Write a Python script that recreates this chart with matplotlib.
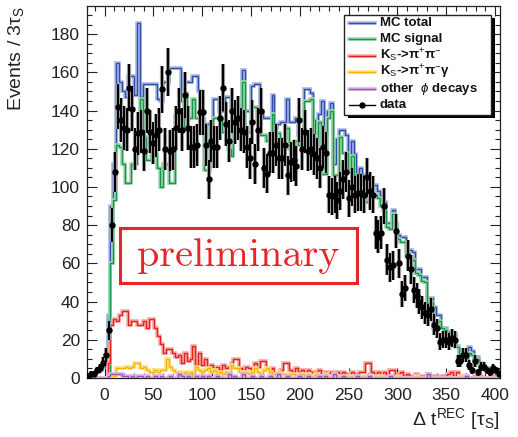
import numpy as np
import matplotlib.pyplot as plt
from matplotlib.patches import Rectangle
from matplotlib.lines import Line2D

plt.rcParams['font.family'] = ['Liberation Sans', 'DejaVu Sans']
plt.rcParams['mathtext.fontset'] = 'custom'
plt.rcParams['mathtext.rm'] = 'Liberation Sans'
plt.rcParams['mathtext.it'] = 'Liberation Sans:italic'
plt.rcParams['mathtext.bf'] = 'Liberation Sans:bold'

# ── Binning: 3 tau_S per bin, left edge -18 ──
BIN_LO, BIN_W, NBINS = -18, 3, 141
edges = BIN_LO + BIN_W * np.arange(NBINS + 1)
centers = edges[:-1] + BIN_W / 2

# ── Histogram contents (10 bins per row) ──
mc_total = [
    1, 1, 2, 3, 4, 6, 12, 33, 90, 112,
    165, 155, 150, 147, 158, 158, 148, 186, 147, 154,
    154, 154, 154, 154, 146, 145, 155, 155, 162, 162,
    162, 162, 145, 155, 155, 155, 158, 158, 150, 136,
    133, 133, 133, 146, 146, 140, 140, 147, 147, 140,
    140, 135, 143, 161, 140, 140, 153, 154, 154, 140,
    136, 136, 136, 148, 131, 133, 134, 134, 146, 134,
    134, 136, 127, 127, 151, 151, 149, 135, 128, 138,
    145, 128, 140, 144, 112, 125, 130, 130, 127, 114,
    124, 117, 103, 110, 106, 98, 103, 101, 101, 98,
    95, 92, 81, 81, 88, 81, 75, 74, 74, 67,
    67, 66, 57, 57, 53, 53, 42, 42, 37, 33,
    33, 26, 26, 24, 24, 23, 17, 14, 13, 12,
    16, 14, 11, 11, 8, 7, 5, 5, 4, 4,
    3,
]
mc_signal = [
    0, 0, 0, 0, 0, 0, 0, 3, 60, 93,
    122, 121, 112, 102, 102, 112, 112, 121, 146, 126,
    114, 114, 120, 118, 110, 100, 112, 112, 102, 102,
    137, 137, 130, 149, 136, 136, 146, 136, 136, 128,
    109, 109, 131, 136, 136, 135, 129, 129, 120, 116,
    134, 134, 134, 155, 129, 129, 142, 142, 134, 127,
    127, 124, 124, 138, 128, 128, 125, 125, 131, 120,
    120, 124, 122, 122, 145, 145, 146, 122, 122, 134,
    107, 107, 136, 140, 106, 106, 126, 118, 118, 108,
    116, 106, 100, 100, 100, 92, 97, 96, 96, 94,
    90, 88, 79, 78, 86, 80, 73, 71, 71, 64,
    63, 62, 55, 54, 51, 50, 39, 40, 26, 28,
    30, 26, 25, 22, 22, 21, 16, 10, 10, 10,
    13, 12, 10, 10, 7, 5, 4, 4, 3, 3,
    3,
]
ks_pipi = [
    0, 0, 0, 0, 0, 0, 0, 8, 28, 31,
    30, 33, 35, 35, 28, 30, 30, 28, 28, 30,
    26, 31, 31, 26, 22, 18, 13, 15, 15, 13,
    11, 12, 8, 13, 9, 10, 17, 7, 13, 7,
    10, 5, 7, 4, 6, 4, 7, 5, 6, 8,
    10, 10, 5, 4, 6, 5, 3, 8, 6, 9,
    9, 4, 4, 5, 3, 3, 4, 8, 8, 4,
    3, 5, 3, 4, 2, 4, 3, 2, 3, 4,
    2, 3, 2, 3, 1, 3, 2, 3, 2, 1,
    3, 2, 2, 3, 3, 8, 8, 3, 2, 3,
    1, 3, 2, 4, 4, 1, 2, 3, 1, 2,
    1, 1, 2, 1, 1, 1, 2, 0, 1, 1,
    0, 1, 1, 2, 3, 1, 3, 1, 0, 1,
    0, 0, 1, 0, 1, 0, 0, 0, 1, 0,
    0,
]
ks_pipig = [
    0, 0, 0, 0, 0, 0, 0, 0, 0, 1,
    5, 5, 5, 6, 5, 6, 8, 8, 5, 6,
    4, 3, 3, 4, 3, 4, 4, 10, 6, 4,
    3, 3, 2, 3, 2, 3, 2, 6, 4, 3,
    4, 5, 3, 4, 2, 3, 2, 3, 2, 7,
    5, 5, 3, 2, 3, 2, 3, 5, 3, 2,
    4, 5, 3, 2, 2, 3, 2, 2, 1, 2,
    2, 1, 2, 2, 1, 2, 1, 1, 2, 1,
    1, 2, 1, 1, 2, 1, 1, 1, 0, 1,
    1, 1, 0, 1, 1, 0, 1, 0, 1, 0,
    1, 0, 0, 1, 0, 0, 1, 0, 0, 0,
    0, 0, 1, 0, 0, 0, 0, 0, 0, 0,
    0, 0, 0, 0, 0, 0, 0, 1, 0, 0,
    0, 0, 0, 0, 0, 0, 0, 0, 0, 0,
    0,
]
other_phi = [
    0, 0, 0, 0, 0, 0, 0, 1, 2, 2,
    2, 2, 1, 1, 0, 1, 0, 1, 1, 0,
    1, 0, 0, 1, 0, 1, 0, 0, 1, 0,
    0, 2, 1, 0, 1, 0, 0, 1, 0, 1,
    0, 1, 0, 0, 1, 0, 0, 0, 2, 0,
    1, 0, 0, 2, 0, 0, 1, 0, 0, 1,
    0, 0, 1, 0, 0, 2, 0, 0, 1, 0,
    0, 0, 1, 0, 0, 1, 0, 0, 0, 1,
    0, 1, 0, 0, 2, 0, 0, 1, 0, 0,
    0, 0, 1, 0, 0, 0, 1, 0, 0, 0,
    0, 0, 0, 1, 0, 0, 0, 0, 0, 0,
    0, 0, 0, 0, 0, 0, 2, 0, 0, 0,
    0, 0, 0, 0, 0, 0, 0, 0, 0, 1,
    0, 0, 0, 0, 0, 0, 0, 0, 0, 0,
    0,
]
data = [
    1, 2, 2, 4, 5, 8, 12, 25, 80, 108,
    142, 135, 131, 130, 152, 141, 120, 128, 129, 119,
    140, 129, 123, 127, 130, 151, 120, 160, 119, 120,
    131, 140, 130, 148, 131, 121, 121, 122, 139, 139,
    122, 104, 124, 121, 121, 136, 152, 133, 124, 140,
    134, 136, 130, 129, 121, 115, 134, 112, 130, 140,
    110, 107, 118, 118, 122, 115, 115, 122, 106, 113,
    114, 111, 135, 120, 129, 119, 120, 117, 115, 110,
    121, 118, 96, 95, 96, 93, 98, 104, 108, 94,
    100, 96, 97, 97, 96, 105, 98, 96, 76, 74,
    76, 90, 62, 58, 59, 77, 60, 44, 47, 64,
    57, 46, 43, 40, 37, 34, 33, 36, 28, 26,
    19, 20, 20, 19, 21, 20, 9, 9, 12, 12,
    7, 4, 9, 3, 6, 6, 4, 3, 5, 4,
    2,
]

for arr in (mc_total, mc_signal, ks_pipi, ks_pipig, other_phi, data):
    assert len(arr) == NBINS

# ── Styles: (dark line, light halo) ──
C_BLUE = ('#2f4fa6', '#a9b8e6')
C_GREEN = ('#13964a', '#9fd6ad')
C_RED = ('#e8201e', '#f6aaa8')
C_YELLOW = ('#f7b500', '#ffe08a')
C_PURPLE = ('#9b55b0', '#d8b6e4')

W, H = 518, 437
fig = plt.figure(figsize=(W / 100, H / 100), dpi=100, facecolor='white')
ax = fig.add_axes([87 / W, 1 - 378 / H, 413 / W, 372 / H])


def px(x, y):
    return x / W, 1 - y / H


def hist(values, cols, z):
    ax.stairs(values, edges, color=cols[1], lw=2.6, zorder=z)
    ax.stairs(values, edges, color=cols[0], lw=1.0, zorder=z + 0.1)


hist(mc_total, C_BLUE, 2)
hist(mc_signal, C_GREEN, 3)
hist(ks_pipi, C_RED, 4)
hist(ks_pipig, C_YELLOW, 5)
hist(other_phi, C_PURPLE, 6)

d = np.array(data, dtype=float)
err = np.sqrt(d)
ax.errorbar(centers, d, yerr=err, fmt='none', ecolor='#9a9a9a', elinewidth=3.0, zorder=7)
ax.errorbar(centers, d, yerr=err, fmt='o', color='black', ms=3.6, mec='black',
            ecolor='black', elinewidth=1.4, zorder=8)

ax.set_xlim(-18, 405)
ax.set_ylim(0, 194.7)
ax.set_xticks(np.arange(0, 401, 50))
ax.set_xticks(np.arange(-10, 405, 10), minor=True)
ax.set_yticks(np.arange(0, 181, 20))
ax.set_yticks(np.arange(0, 195, 5), minor=True)
ax.tick_params(which='both', direction='in', top=True, right=True, width=0.8,
               labelsize=12.5, colors='#222222')
ax.tick_params(which='major', length=7)
ax.tick_params(which='minor', length=3.5)
ax.tick_params(axis='x', pad=7)
ax.tick_params(axis='y', pad=5)
for s in ax.spines.values():
    s.set_linewidth(0.9)
    s.set_color('#222222')

# axis titles (ROOT style, at the axis ends)
fig.text(*px(16, 6), 'Events / 3τ$_{\\mathrm{S}}$', rotation=90, ha='center', va='top',
         fontsize=14, color='#222222')
fig.text(*px(500, 425), 'Δ t$^{\\mathrm{REC}}$ [τ$_{\\mathrm{S}}$]', ha='right', va='baseline',
         fontsize=14, color='#222222')

# ── "preliminary" stamp ──
fig.patches.append(Rectangle(px(120, 283), 237 / W, 55 / H, transform=fig.transFigure,
                             fill=False, edgecolor='#e8262a', lw=2.2, zorder=10))
fig.text(*px(238, 256), 'preliminary', ha='center', va='center', color='#e8262a',
         fontsize=29, family='cmr10', zorder=11)

# ── Legend with ROOT drop shadow ──
fig.patches.append(Rectangle(px(348, 118), 147 / W, 100 / H, transform=fig.transFigure,
                             facecolor='black', edgecolor='black', lw=0, zorder=12))
fig.patches.append(Rectangle(px(344, 115), 147 / W, 100 / H, transform=fig.transFigure,
                             facecolor='white', edgecolor='#222222', lw=1.0, zorder=13))
entries = [
    ('MC total', C_BLUE, False),
    ('MC signal', C_GREEN, False),
    ('K$_{\\mathrm{S}}$->π$^{+}$π$^{-}$', C_RED, False),
    ('K$_{\\mathrm{S}}$->π$^{+}$π$^{-}$γ', C_YELLOW, False),
    ('other  $\\phi$ decays', C_PURPLE, False),
    ('data', ('black', 'black'), True),
]
for k, (label, cols, is_data) in enumerate(entries):
    y = 23 + 16.4 * k
    x0, y0 = px(349, y)
    x1, _ = px(375, y)
    if not is_data:
        fig.add_artist(Line2D([x0, x1], [y0, y0], color=cols[1], lw=2.6, zorder=14))
    fig.add_artist(Line2D([x0, x1], [y0, y0], color=cols[0], lw=1.0, zorder=14.1))
    if is_data:
        fig.add_artist(Line2D([(x0 + x1) / 2], [y0], color='black', marker='o', ms=3.6,
                              lw=0, zorder=14.2))
    fig.text(*px(380, y), label, ha='left', va='center', fontsize=9.5, fontweight='bold',
             color='#111111', zorder=15)

fig.savefig('out.png', dpi=100, facecolor='white')
